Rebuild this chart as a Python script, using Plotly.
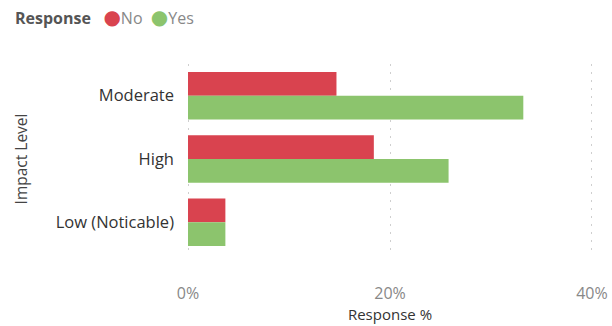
import plotly.graph_objects as go

# Survey responses by impact level (percent of respondents)
impact_levels = ["Moderate", "High", "Low (Noticable)"]
responses = ["No", "Yes"]
no_pct = [14.7, 18.4, 3.7]
yes_pct = [33.2, 25.8, 3.7]
x_ticks = [0, 20, 40]
x_tick_labels = ["0%", "20%", "40%"]

RED = "#D9434F"
GREEN = "#8CC46D"
FONT = "Open Sans, DejaVu Sans, sans-serif"
NBSP = "\u00a0"

fig = go.Figure()

for name, values, color in [(responses[0], no_pct, RED), (responses[1], yes_pct, GREEN)]:
    fig.add_trace(go.Bar(
        y=impact_levels, x=values, name=name, orientation="h",
        marker=dict(color=color, line=dict(width=0)), showlegend=False,
    ))

# Compact legend row: bold title followed by round swatches
legend_html = "<b>Response</b>" + NBSP * 3 + (NBSP * 2).join(
    f"<span style='color:{c};font-size:20px'>●</span><span style='color:#888888'>{n}</span>"
    for n, c in zip(responses, [RED, GREEN])
)
fig.add_annotation(
    text=legend_html, xref="paper", yref="paper",
    x=-187 / 406, xanchor="left", xshift=13,
    y=1, yanchor="middle", yshift=64 - 16,
    showarrow=False, font=dict(family=FONT, size=16, color="#555555"),
)

fig.update_layout(
    width=612, height=326,
    margin=dict(l=187, r=19, t=64, b=72, autoexpand=False),
    paper_bgcolor="white", plot_bgcolor="white",
    barmode="group", bargap=0.25, bargroupgap=0,
    font=dict(family=FONT, size=14, color="#444444"),
    showlegend=False,
    xaxis=dict(
        range=[-0.1, 40.1], tickvals=x_ticks, ticktext=x_tick_labels,
        showgrid=True, gridcolor="#CFCFCF", griddash="2px,6px", gridwidth=1,
        zeroline=False, showline=False, ticks="",
        tickfont=dict(size=16, color="#888888"), ticklabelstandoff=28,
        title=dict(text="Response %", font=dict(size=15, color="#333333"), standoff=6),
        automargin=False, fixedrange=True,
    ),
    yaxis=dict(
        autorange="reversed", type="category",
        showgrid=False, zeroline=False, showline=False, ticks="",
        tickfont=dict(size=16.5, color="#333333"), ticklabelstandoff=12,
        title=dict(text="Impact Level", font=dict(size=15.5, color="#444444"), standoff=24),
        automargin=False, fixedrange=True,
    ),
)

fig.write_html("out.html")
